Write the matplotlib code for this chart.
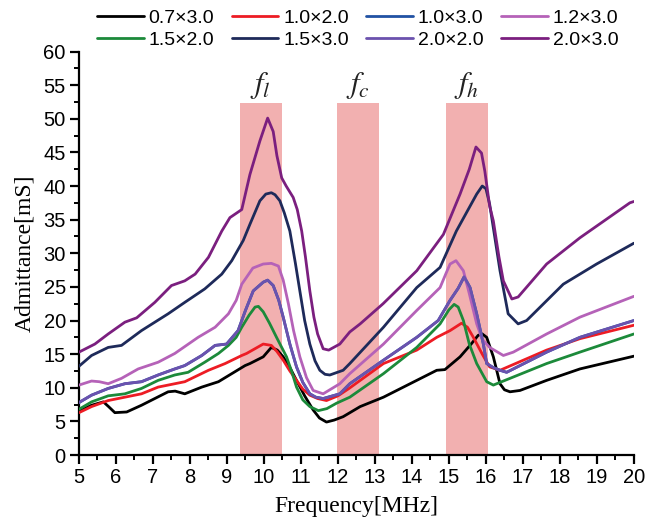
import matplotlib
matplotlib.use("Agg")
import matplotlib.pyplot as plt
from matplotlib.ticker import MultipleLocator

# admittance curves for each electrode size (frequency in MHz, admittance in mS)
f_07x30 = [5.0, 5.34, 5.66, 5.8, 5.97, 6.29, 6.69, 7.05, 7.41, 7.6, 7.86, 8.32, 8.77, 9.13,
           9.49, 9.62, 9.98, 10.2, 10.36, 10.52, 10.7, 10.88, 11.1, 11.33, 11.5, 11.69, 11.9,
           12.14, 12.6, 13.23, 14.13, 14.67, 14.89, 15.3, 15.6, 15.79, 15.9, 16.02, 16.2,
           16.38, 16.5, 16.65, 16.92, 17.64, 18.54, 20.0]
y_07x30 = [6.5, 7.4, 7.9, 7.2, 6.3, 6.4, 7.4, 8.4, 9.4, 9.5, 9.1, 10.1, 10.9, 12.1,
           13.3, 13.6, 14.6, 16.0, 15.6, 14.6, 13.0, 11.1, 8.8, 6.7, 5.5, 4.9, 5.2,
           5.7, 7.2, 8.6, 11.1, 12.6, 12.7, 14.6, 16.5, 17.8, 18.0, 17.5, 14.6,
           10.6, 9.7, 9.4, 9.6, 11.1, 12.8, 14.7]

f_10x20 = [5.0, 5.34, 5.79, 6.24, 6.69, 7.14, 7.59, 7.86, 8.5, 8.95, 9.4, 9.53, 9.98, 10.2,
           10.35, 10.52, 10.7, 10.88, 11.05, 11.24, 11.45, 11.69, 12.0, 12.3, 13.23, 14.13,
           14.67, 15.03, 15.34, 15.5, 15.66, 15.9, 16.1, 16.38, 17.64, 18.54, 20.0]
y_10x20 = [6.3, 7.2, 8.1, 8.6, 9.1, 10.1, 10.6, 10.9, 12.6, 13.6, 14.8, 15.1, 16.5, 16.3,
           15.4, 14.1, 12.5, 11.1, 9.8, 8.9, 8.4, 8.1, 8.8, 9.9, 13.6, 15.6,
           17.5, 18.5, 19.6, 19.0, 17.5, 15.0, 13.1, 12.6, 15.6, 17.3, 19.3]

f_20x20 = [5.0, 5.34, 5.79, 6.24, 6.69, 7.14, 7.59, 7.86, 8.32, 8.68, 8.99, 9.3, 9.5, 9.71,
           9.98, 10.1, 10.25, 10.4, 10.52, 10.7, 10.88, 11.05, 11.24, 11.4, 11.6, 12.05, 12.32,
           13.23, 14.13, 14.71, 15.03, 15.25, 15.41, 15.57, 15.75, 15.93, 16.02, 16.2, 16.38,
           16.56, 17.64, 18.54, 20.0]
y_20x20 = [7.8, 8.9, 9.9, 10.6, 10.9, 11.9, 12.8, 13.3, 14.8, 16.3, 16.5, 18.5, 21.5, 24.4,
           25.7, 26.0, 25.2, 23.0, 20.5, 16.5, 13.1, 10.8, 9.1, 8.6, 8.4, 9.1, 10.6,
           14.1, 17.5, 20.0, 23.0, 24.8, 26.5, 24.9, 21.0, 16.5, 13.6, 13.0, 12.6,
           12.3, 15.3, 17.5, 20.0]

# 1.0x3.0 runs on top of 2.0x2.0 over the whole sweep
f_10x30 = list(f_20x20)
y_10x30 = list(y_20x20)

f_12x30 = [5.0, 5.34, 5.55, 5.79, 6.15, 6.6, 7.14, 7.59, 8.22, 8.68, 9.04, 9.25, 9.4, 9.7,
           9.98, 10.2, 10.39, 10.52, 10.66, 10.8, 10.97, 11.15, 11.33, 11.6, 12.05, 12.32,
           13.23, 14.13, 14.76, 14.92, 15.03, 15.19, 15.39, 15.55, 15.75, 15.9, 16.1, 16.47,
           16.74, 17.64, 18.54, 20.0]
y_12x30 = [10.4, 11.0, 10.9, 10.6, 11.4, 12.8, 13.8, 15.1, 17.5, 19.0, 21.0, 23.0, 25.4, 27.8,
           28.4, 28.5, 28.1, 26.0, 22.5, 18.5, 14.6, 11.5, 9.6, 9.1, 10.6, 12.1,
           16.5, 21.5, 24.9, 27.0, 28.4, 28.9, 27.4, 24.0, 19.5, 17.2, 16.0, 14.8,
           15.3, 18.0, 20.5, 23.6]

f_15x20 = [5.0, 5.34, 5.79, 6.24, 6.69, 7.14, 7.59, 7.95, 8.4, 8.77, 9.04, 9.25, 9.4, 9.6,
           9.76, 9.85, 9.98, 10.15, 10.34, 10.61, 10.75, 10.88, 11.05, 11.24, 11.47, 11.7,
           11.96, 12.32, 13.23, 14.13, 14.76, 15.0, 15.14, 15.25, 15.39, 15.55, 15.75, 16.02,
           16.2, 16.74, 17.64, 18.54, 20.0]
y_15x20 = [6.8, 7.9, 8.8, 9.1, 9.9, 11.1, 11.9, 12.3, 13.8, 15.1, 16.3, 17.5, 19.0, 20.8,
           22.0, 22.1, 21.3, 19.6, 17.5, 14.6, 12.4, 10.1, 8.2, 7.2, 6.6, 6.9,
           7.7, 8.6, 12.1, 16.0, 19.5, 21.6, 22.4, 22.0, 20.0, 16.5, 13.6, 10.9,
           10.4, 11.6, 13.6, 15.3, 18.0]

f_15x30 = [5.0, 5.34, 5.79, 6.15, 6.69, 7.41, 7.86, 8.4, 8.86, 9.13, 9.44, 9.62, 9.89, 10.05,
           10.2, 10.3, 10.43, 10.55, 10.7, 10.85, 10.97, 11.1, 11.24, 11.38, 11.51, 11.65,
           11.78, 12.14, 12.32, 13.23, 14.13, 14.76, 15.2, 15.55, 15.75, 15.9, 16.0, 16.1,
           16.25, 16.38, 16.6, 16.87, 17.1, 18.09, 18.99, 20.0]
y_15x30 = [13.2, 14.8, 16.0, 16.3, 18.5, 21.0, 22.7, 24.7, 26.9, 28.9, 31.9, 34.3, 37.8, 38.8,
           39.0, 38.7, 37.8, 36.0, 33.3, 28.5, 24.4, 20.0, 16.5, 14.0, 12.6, 12.0,
           11.9, 12.6, 13.6, 19.0, 24.9, 27.9, 33.3, 36.8, 38.8, 40.0, 39.6, 37.3,
           32.0, 27.4, 21.0, 19.5, 20.0, 25.4, 28.4, 31.5]

f_20x30 = [5.0, 5.43, 5.79, 6.24, 6.56, 7.05, 7.5, 7.86, 8.14, 8.5, 8.86, 9.08, 9.4, 9.62,
           9.89, 10.1, 10.25, 10.35, 10.48, 10.6, 10.79, 10.9, 11.02, 11.12, 11.24, 11.35,
           11.45, 11.6, 11.75, 12.05, 12.32, 12.6, 13.22, 14.13, 14.85, 15.3, 15.55, 15.73,
           15.88, 15.97, 16.1, 16.2, 16.35, 16.47, 16.7, 16.87, 17.64, 18.54, 19.89, 20.0]
y_20x30 = [15.3, 16.5, 18.0, 19.75, 20.4, 22.7, 25.2, 25.9, 26.9, 29.4, 33.3, 35.3, 36.5, 41.7,
           46.7, 50.1, 48.1, 44.5, 41.2, 40.0, 38.3, 36.5, 33.3, 29.5, 24.4, 20.5,
           18.0, 15.8, 15.6, 16.5, 18.3, 19.5, 22.5, 27.4, 32.8, 38.8, 42.5, 45.8,
           44.9, 42.2, 37.0, 34.8, 29.5, 25.9, 23.2, 23.5, 28.4, 32.3, 37.5, 37.7]

# resonance bands (MHz) and their labels
band_edges = [(9.35, 10.48), (11.97, 13.1), (14.92, 16.05)]
band_labels = [r"$f_l$", r"$f_c$", r"$f_h$"]
band_top = 52.4

series = [
    ("0.7×3.0", f_07x30, y_07x30, "#000000"),
    ("1.0×2.0", f_10x20, y_10x20, "#ED1C24"),
    ("1.0×3.0", f_10x30, y_10x30, "#2152A3"),
    ("1.2×3.0", f_12x30, y_12x30, "#B562B8"),
    ("1.5×2.0", f_15x20, y_15x20, "#1C8A3A"),
    ("1.5×3.0", f_15x30, y_15x30, "#1E2A5A"),
    ("2.0×2.0", f_20x20, y_20x20, "#6B52AE"),
    ("2.0×3.0", f_20x30, y_20x30, "#7B1F7F"),
]

plt.rcParams["mathtext.fontset"] = "stix"

fig = plt.figure(figsize=(6.57, 5.25), dpi=100)
ax = fig.add_axes([0.1202, 0.1333, 0.8447, 0.7686])

for (lo, hi), lab in zip(band_edges, band_labels):
    ax.fill_between([lo, hi], 0, band_top, color="#F2B0B0", lw=0, zorder=1)
    ax.text((lo + hi) / 2, band_top + 0.3, lab, ha="center", va="bottom",
            fontsize=22, color="#222222")

lines = {}
for name, f, y, c in series:
    ln, = ax.plot(f, y, color=c, lw=2.0, label=name, zorder=3,
                  solid_joinstyle="round", solid_capstyle="round")
    lines[name] = ln

ax.set_xlim(5, 20)
ax.set_ylim(0, 60)
ax.xaxis.set_major_locator(MultipleLocator(1))
ax.xaxis.set_minor_locator(MultipleLocator(0.5))
ax.yaxis.set_major_locator(MultipleLocator(5))
ax.yaxis.set_minor_locator(MultipleLocator(2.5))

for side in ("top", "right"):
    ax.spines[side].set_visible(False)
for side in ("left", "bottom"):
    ax.spines[side].set_linewidth(1.6)

ax.tick_params(which="major", direction="out", length=6.5, width=1.6, pad=3,
               labelsize=14.5)
ax.tick_params(which="minor", direction="out", length=3.5, width=1.4)
for lab in ax.get_xticklabels() + ax.get_yticklabels():
    lab.set_fontfamily("Liberation Sans")

ax.set_xlabel("Frequency[MHz]", fontfamily="Liberation Serif", fontsize=17, labelpad=6)
ax.set_ylabel("Admittance[mS]", fontfamily="Liberation Serif", fontsize=17, labelpad=6)

# legend laid out in two rows of four
order = ["0.7×3.0", "1.5×2.0", "1.0×2.0", "1.5×3.0",
         "1.0×3.0", "2.0×2.0", "1.2×3.0", "2.0×3.0"]
fig.legend([lines[k] for k in order], order, ncol=4, loc="upper left",
           bbox_to_anchor=(0.13, 1.005), frameon=False,
           prop={"family": "Liberation Sans", "size": 14},
           handlelength=2.4, handletextpad=0.25, columnspacing=0.9,
           labelspacing=0.25, borderaxespad=0.2)

fig.savefig("out.png", dpi=100)
